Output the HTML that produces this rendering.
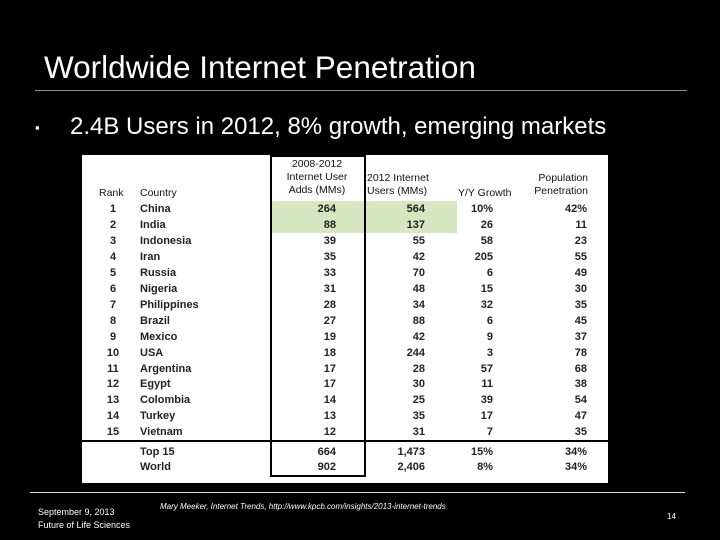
<!DOCTYPE html>
<html><head><meta charset="utf-8"><style>
body{margin:0;background:#000;}
#s{position:relative;width:720px;height:540px;background:#000;overflow:hidden;font-family:"Liberation Sans",Arial,sans-serif;color:#fff}
.a{position:absolute;white-space:nowrap}
#tbl{position:absolute;left:82px;top:155px;width:526px;height:328px;background:#fff;color:#222;font-size:11px;font-weight:bold}
#tbl .a{line-height:13px}
#tbl .h{font-weight:normal;font-size:10.5px;color:#111}
.r{text-align:right}.c{text-align:center}
</style></head><body>
<div id="s">
<div class="a" style="left:44px;top:49px;font-size:31.5px">Worldwide Internet Penetration</div>
<div class="a" style="left:35px;top:90px;width:652px;height:1px;background:#888"></div>
<div class="a" style="left:35px;top:120px;font-size:13px">&#9642;</div>
<div class="a" style="left:70px;top:113px;font-size:24px">2.4B Users in 2012, 8% growth, emerging markets</div>
<div id="tbl">
 <div class="a" style="left:189px;top:46px;width:186px;height:32px;background:#d6e6c0"></div>
 <div class="a" style="left:188px;top:0;width:92px;height:318px;border:2px solid #000"></div>
 <div class="a" style="left:0;top:285px;width:526px;height:2px;background:#000"></div>
 <div class="a c h" style="left:190px;top:3px;width:90px">2008-2012<br>Internet User<br>Adds (MMs)</div>
 <div class="a r h" style="left:285px;top:17px;width:58px">2012 Internet<br>Users (MMs)</div>
 <div class="a h" style="left:17px;top:32px">Rank</div>
 <div class="a h" style="left:58px;top:32px">Country</div>
 <div class="a h" style="left:376px;top:32px">Y/Y Growth</div>
 <div class="a r h" style="left:440px;top:17px;width:66px">Population<br>Penetration</div>
</div>
<div class="a" style="left:30px;top:492px;width:655px;height:1px;background:#ddd"></div>
<div class="a" style="left:38px;top:506px;font-size:9px;line-height:13px">September 9, 2013<br>Future of Life Sciences</div>
<div class="a" style="left:160px;top:502px;font-size:8px;font-style:italic">Mary Meeker, Internet Trends, http://www.kpcb.com/insights/2013-internet-trends</div>
<div class="a" style="left:667px;top:512px;font-size:8px">14</div>
</div>
<script>
const countries=["China","India","Indonesia","Iran","Russia","Nigeria","Philippines","Brazil","Mexico","USA","Argentina","Egypt","Colombia","Turkey","Vietnam"];
const adds=["264","88","39","35","33","31","28","27","19","18","17","17","14","13","12"];
const users=["564","137","55","42","70","48","34","88","42","244","28","30","25","35","31"];
const growth=["10%","26","58","205","6","15","32","6","9","3","57","11","39","17","7"];
const pen=["42%","11","23","55","49","30","35","45","37","78","68","38","54","47","35"];
const totLabels=["Top 15","World"];
const totAdds=["664","902"];
const totUsers=["1,473","2,406"];
const totGrowth=["15%","8%"];
const totPen=["34%","34%"];
const t=document.getElementById('tbl');
function cell(txt,x,y,w,cls,name){const d=document.createElement('div');d.className='a '+cls;d.style.left=x+'px';d.style.top=y+'px';if(w)d.style.width=w+'px';d.textContent=txt;


t.appendChild(d);}
countries.forEach((c,i)=>{const y=48+i*15.95;
cell(String(i+1),17,y,28,'c','rank-cell');
cell(c,58,y,0,'','country-cell');
cell(adds[i],200,y,54,'r','adds-cell');
cell(users[i],290,y,53,'r','users-cell');
cell(growth[i],360,y,51,'r','growth-cell');
cell(pen[i],450,y,55,'r','penetration-cell');});
totLabels.forEach((c,i)=>{const y=291+i*15;
cell(c,58,y,0,'','total-label');
cell(totAdds[i],200,y,54,'r','total-adds');
cell(totUsers[i],290,y,53,'r','total-users');
cell(totGrowth[i],360,y,51,'r','total-growth');
cell(totPen[i],450,y,55,'r','total-penetration');});
</script>
</body></html>
